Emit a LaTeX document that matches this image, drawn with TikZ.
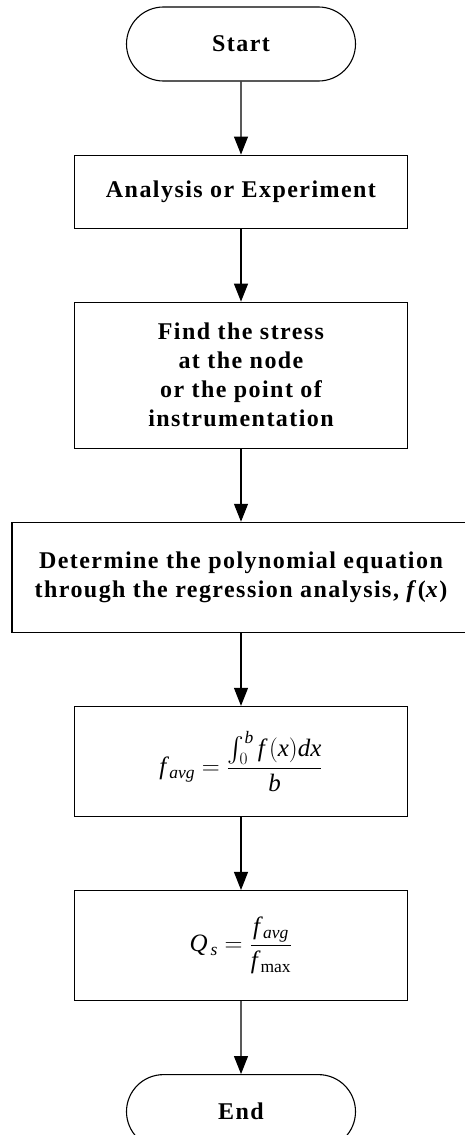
\documentclass[tikz,border=0pt]{standalone}
\usepackage{amsmath}
\usepackage{fontspec}
\setmainfont{Liberation Serif}[NFSSFamily=libserif]
\newfontfamily\flowfont[LetterSpace=6]{Liberation Serif}
\DeclareSymbolFont{letters}{TU}{libserif}{m}{it}
\usetikzlibrary{arrows.meta,positioning,shapes.misc}

\begin{document}
\begin{tikzpicture}[
  node distance=73pt,
  box/.style={draw,line width=1.1pt,minimum width=333pt,minimum height=110pt,
    inner sep=0pt,align=center,font=\fontsize{25}{29}\selectfont},
  txt/.style={font=\flowfont\bfseries\fontsize{24}{29}\selectfont},
  term/.style={rounded rectangle,draw,line width=1.1pt,minimum width=229pt,
    minimum height=74pt,inner sep=0pt,font=\flowfont\bfseries\fontsize{24}{29}\selectfont},
  arr/.style={-{Triangle[length=18pt,width=14pt]},line width=1.1pt}]
\useasboundingbox (0,0) rectangle (465pt,-1135pt);
\node[term] (start) at (241pt,-44pt) {Start};
\node[box,txt,below=of start,minimum height=73pt] (anal) {Analysis or Experiment};
\node[box,txt,below=of anal,minimum height=146pt] (stress) {Find the stress\\at the node\\or the point of\\instrumentation};
\node[box,txt,below=of stress,minimum width=458pt] (poly) {Determine the polynomial equation\\through the regression analysis, \textit{f}(\textit{x})};
\node[box,below=of poly] (favg) {$\displaystyle f_{\,avg}=\frac{\int_0^b f\,(x)dx}{b}$};
\node[box,below=of favg] (qs) {$\displaystyle Q_{\,s}=\frac{f_{\,avg}}{f_{\,\max}}$};
\node[term,below=of qs] (stop) {End};
\draw[arr] (start)--(anal);
\draw[arr] (anal)--(stress);
\draw[arr] (stress)--(poly);
\draw[arr] (poly)--(favg);
\draw[arr] (favg)--(qs);
\draw[arr] (qs)--(stop);
\end{tikzpicture}
\end{document}
